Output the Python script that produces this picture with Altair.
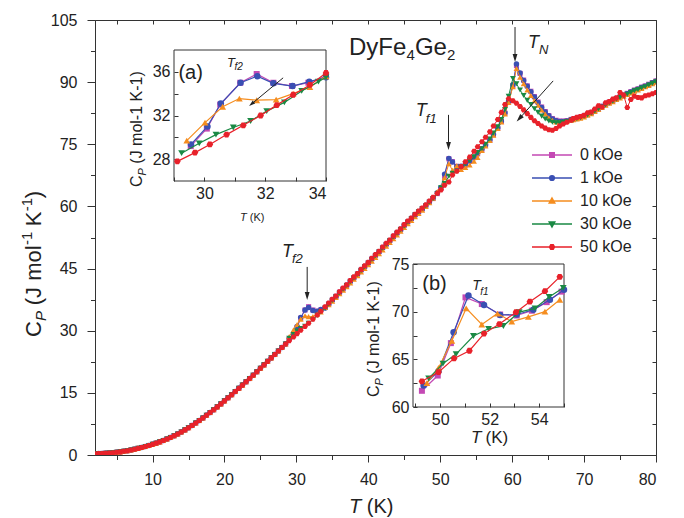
import altair as alt
import pandas as pd

# ------------------------------------------------------------------ data
FIELDS = ["0 kOe", "1 kOe", "10 kOe", "30 kOe", "50 kOe"]
COLORS = ["#C449B4", "#3A4FB3", "#F58D1F", "#1A8944", "#E8212A"]

# below ~28 K the five field curves lie on top of each other
T_LOW = [2.0, 2.5, 3.0, 3.5, 4.0, 4.5, 5.0, 5.5, 6.0, 6.5,
         7.0, 7.5, 8.0, 8.5, 9.0, 9.5, 10.0, 10.5, 11.0, 11.5,
         12.0, 12.5, 13.0, 13.5, 14.0, 14.5, 15.0, 15.5, 16.0, 16.5,
         17.0, 17.5, 18.0, 18.5, 19.0, 19.5, 20.0, 20.5, 21.0, 21.5,
         22.0, 22.5, 23.0, 23.5, 24.0, 24.5, 25.0, 25.5, 26.0, 26.5,
         27.0, 27.5, 28.0, 28.5]
CP_LOW = [0.30, 0.34, 0.38, 0.43, 0.49, 0.56, 0.65, 0.76, 0.89, 1.04,
          1.21, 1.40, 1.60, 1.82, 2.05, 2.30, 2.57, 2.86, 3.17, 3.50,
          3.86, 4.24, 4.65, 5.09, 5.56, 6.06, 6.59, 7.14, 7.72, 8.32,
          8.94, 9.58, 10.24, 10.92, 11.62, 12.34, 13.07, 13.81, 14.56, 15.32,
          16.09, 16.87, 17.66, 18.46, 19.27, 20.09, 20.92, 21.76, 22.60, 23.44,
          24.28, 25.12, 25.96, 26.80]

T_HIGH = [29.0, 29.6, 30.1, 30.6, 31.2, 31.7, 32.3, 32.9, 33.4, 34.0,
          34.5, 35.0, 35.5, 36.0, 36.5, 37.0, 37.5, 38.0, 38.5, 39.0,
          39.5, 40.0, 40.5, 41.0, 41.5, 42.0, 42.5, 43.0, 43.5, 44.0,
          44.5, 45.0, 45.5, 46.0, 46.5, 47.0, 47.5,
          48.0, 48.5, 49.0, 49.6, 50.1, 50.6, 51.2, 51.7, 52.3, 52.9,
          53.5, 54.1, 54.7, 55.2,
          55.8, 56.3, 56.9, 57.4, 58.0, 58.5, 59.0, 59.5, 60.1, 60.6,
          61.1, 61.6, 62.1, 62.6, 63.1, 63.6, 64.1, 64.6, 65.1, 65.6,
          66.1, 66.6, 67.1, 67.6, 68.2,
          68.5, 69.0, 69.5, 70.0, 70.5, 71.0, 71.5, 72.0, 72.5, 73.0,
          73.5, 74.0, 74.5, 75.0, 75.5, 76.0, 76.5, 77.0, 77.5, 78.0,
          78.5, 79.0, 79.5, 80.0]

CP_HIGH_0 = [28.0, 29.2, 30.8, 33.0, 35.0, 35.8, 35.0, 34.7, 35.0, 35.6,
             36.5, 37.5, 38.3, 39.3, 40.1, 41.0, 42.0, 42.8, 43.7, 44.7,
             45.5, 46.4, 47.4, 48.2, 49.1, 50.1, 50.9, 51.8, 52.8, 53.6,
             54.5, 55.5, 56.3, 57.1, 58.0, 58.7, 59.4,
             60.2, 61.1, 61.9, 63.1, 64.3, 67.3, 71.5, 70.8, 69.7, 69.6,
             70.0, 70.9, 71.8, 72.7,
             73.8, 74.8, 76.0, 77.3, 78.9, 80.5, 82.5, 85.2, 89.1, 94.0,
             92.1, 90.5, 89.1, 87.8, 86.5, 85.2, 84.0, 82.9, 81.9, 81.2,
             80.8, 80.6, 80.6, 80.7, 81.0,
             81.1, 81.3, 81.6, 81.9, 82.3, 82.7, 83.2, 83.7, 84.2, 84.7,
             85.2, 85.6, 86.1, 86.5, 86.9, 87.3, 87.7, 88.1, 88.4, 88.8,
             89.1, 89.5, 89.9, 90.3]
CP_HIGH_1 = [28.1, 29.4, 31.0, 33.2, 35.0, 35.6, 34.9, 34.7, 35.1, 35.5,
             36.4, 37.4, 38.2, 39.2, 40.1, 40.9, 41.9, 42.8, 43.6, 44.6,
             45.5, 46.3, 47.3, 48.2, 49.0, 50.0, 50.9, 51.7, 52.7, 53.6,
             54.4, 55.4, 56.3, 57.0, 57.9, 58.7, 59.4,
             60.2, 61.1, 62.0, 63.3, 64.6, 67.8, 71.6, 70.7, 69.6, 69.7,
             70.1, 71.0, 71.9, 72.9,
             73.9, 74.9, 76.1, 77.4, 79.0, 80.6, 82.6, 85.4, 89.4, 94.4,
             92.2, 90.4, 89.0, 87.7, 86.4, 85.1, 83.9, 82.8, 81.9, 81.1,
             80.7, 80.5, 80.5, 80.6, 80.9,
             81.0, 81.2, 81.5, 81.8, 82.2, 82.6, 83.1, 83.6, 84.1, 84.6,
             85.1, 85.5, 86.0, 86.4, 86.8, 87.2, 87.6, 88.0, 88.3, 88.7,
             89.0, 89.4, 89.8, 90.2]
CP_HIGH_10 = [28.6, 30.2, 31.5, 32.8, 33.6, 33.4, 33.45, 34.0, 34.5, 35.6,
              36.3, 37.1, 38.0, 38.9, 39.8, 40.6, 41.5, 42.4, 43.3, 44.2,
              45.0, 45.9, 46.8, 47.7, 48.6, 49.5, 50.4, 51.3, 52.2, 53.1,
              54.0, 54.9, 55.8, 56.6, 57.5, 58.3, 59.1,
              60.0, 60.9, 62.0, 63.6, 64.6, 66.9, 70.3, 68.7, 69.8, 68.9,
              69.4, 70.0, 70.9, 71.8,
              73.5, 74.6, 75.9, 77.2, 78.8, 80.4, 82.3, 85.1, 88.9, 93.3,
              91.2, 89.6, 88.1, 86.8, 85.5, 84.4, 83.3, 82.3, 81.4, 80.8,
              80.4, 80.3, 80.4, 80.5, 80.8,
              80.9, 81.1, 81.3, 81.6, 82.0, 82.4, 82.9, 83.4, 83.9, 84.4,
              84.9, 85.3, 85.8, 86.2, 86.6, 87.0, 87.4, 87.8, 88.1, 88.5,
              88.9, 89.2, 89.6, 90.0]
CP_HIGH_30 = [28.2, 29.1, 29.9, 30.5, 31.1, 31.8, 32.7, 33.7, 34.5, 35.4,
              36.4, 37.3, 38.2, 39.1, 40.0, 40.9, 41.8, 42.7, 43.6, 44.5,
              45.4, 46.3, 47.2, 48.1, 49.0, 49.9, 50.8, 51.7, 52.6, 53.5,
              54.4, 55.3, 56.2, 57.0, 57.9, 58.7, 59.5,
              60.1, 61.0, 61.9, 63.1, 64.5, 65.5, 67.3, 68.0, 68.5, 69.6,
              70.3, 71.1, 72.0, 73.0,
              73.9, 75.0, 76.3, 77.7, 79.2, 81.0, 83.4, 86.6, 90.9, 89.6,
              88.1, 86.8, 85.6, 84.6, 83.6, 82.7, 81.8, 81.1, 80.6, 80.3,
              80.2, 80.2, 80.3, 80.5, 80.8,
              80.9, 81.2, 81.4, 81.7, 82.1, 82.5, 83.0, 83.5, 84.0, 84.5,
              85.0, 85.4, 85.9, 86.3, 86.7, 87.1, 87.5, 87.9, 88.2, 88.6,
              88.9, 89.3, 89.7, 90.1]
CP_HIGH_50 = [27.6, 28.5, 29.3, 30.1, 31.0, 31.8, 32.8, 33.8, 34.7, 35.8,
              36.7, 37.6, 38.4, 39.4, 40.3, 41.1, 42.1, 43.0, 43.8, 44.8,
              45.7, 46.5, 47.5, 48.4, 49.2, 50.2, 51.1, 51.9, 52.9, 53.8,
              54.6, 55.6, 56.5, 57.2, 58.1, 58.9, 59.6,
              60.4, 61.3, 62.2, 63.2, 64.0, 65.1, 65.9, 67.6, 68.5, 69.6,
              70.8, 71.9, 73.3, 74.4,
              75.6, 76.7, 78.0, 79.4, 81.0, 82.7, 84.6, 86.0, 85.5, 84.9,
              84.1, 83.3, 82.4, 81.5, 80.7, 80.0, 79.4, 78.9, 78.5, 78.4,
              78.8, 79.4, 79.9, 80.3, 80.8,
              81.2, 81.5, 81.7, 82.0, 82.6, 82.8, 83.5, 84.3, 84.0, 85.0,
              85.3, 85.9, 86.2, 87.5, 86.9, 83.9, 85.8, 86.6, 86.3, 86.2,
              86.7, 86.9, 87.2, 87.5]
CP_HIGH = [CP_HIGH_0, CP_HIGH_1, CP_HIGH_10, CP_HIGH_30, CP_HIGH_50]

# inset (a): around T_f2
IA_T = [
    [29.55, 30.08, 30.52, 31.18, 31.72, 32.27, 32.88, 33.42, 34.0],
    [29.56, 30.10, 30.54, 31.19, 31.74, 32.27, 32.90, 33.45, 34.0],
    [29.42, 30.02, 30.60, 31.15, 31.72, 32.36, 32.92, 33.47, 34.0],
    [29.25, 29.83, 30.38, 30.95, 31.52, 32.05, 32.63, 33.20, 33.75, 34.0],
    [29.11, 29.69, 30.18, 30.73, 31.28, 31.85, 32.38, 32.92, 33.47, 34.0],
]
IA_CP = [
    [29.2, 30.8, 33.0, 35.0, 35.8, 35.0, 34.7, 35.0, 35.6],
    [29.35, 31.0, 33.1, 35.0, 35.6, 34.95, 34.7, 35.1, 35.5],
    [29.7, 31.35, 32.8, 33.55, 33.4, 33.45, 34.0, 34.6, 35.6],
    [28.55, 29.45, 30.25, 30.9, 31.5, 32.4, 33.2, 34.25, 35.1, 35.5],
    [27.8, 28.6, 29.35, 30.25, 31.1, 32.0, 32.95, 33.9, 34.8, 35.9],
]

# inset (b): around T_f1
IB_T = [
    [49.26, 49.90, 50.43, 51.02, 51.68, 52.42, 53.09, 53.70, 54.30, 54.90],
    [49.33, 49.93, 50.54, 51.14, 51.77, 52.42, 53.09, 53.76, 54.43, 55.0],
    [49.46, 49.93, 50.47, 51.05, 51.68, 52.31, 52.89, 53.56, 54.23, 54.83],
    [49.53, 50.11, 50.64, 51.34, 51.95, 52.55, 53.19, 53.83, 54.40, 54.97],
    [49.26, 49.93, 50.56, 51.18, 51.77, 52.39, 53.06, 53.62, 54.23, 54.83],
]
IB_CP = [
    [61.7, 63.3, 66.7, 71.5, 70.8, 69.7, 69.6, 70.1, 71.0, 72.1],
    [62.25, 63.75, 67.85, 71.7, 70.7, 69.65, 69.7, 70.2, 71.25, 72.3],
    [62.5, 64.1, 66.95, 70.35, 68.65, 69.8, 68.95, 69.45, 70.0, 71.25],
    [63.0, 64.55, 65.55, 67.45, 68.2, 68.5, 69.95, 70.35, 71.55, 72.5],
    [62.7, 63.65, 65.1, 65.9, 67.7, 68.7, 69.95, 71.05, 72.15, 73.65],
]

# axis extents and ticks
X_DOMAIN = [2, 80]
Y_DOMAIN = [0, 105]
X_TICKS = [5, 10, 15, 20, 25, 30, 35, 40, 45, 50, 55, 60, 65, 70, 75, 80]
Y_TICKS = [0, 7.5, 15, 22.5, 30, 37.5, 45, 52.5, 60, 67.5, 75, 82.5, 90, 97.5, 105]
IA_X_DOMAIN = [29, 34]
IA_Y_DOMAIN = [26, 38]
IA_X_TICKS = [29, 30, 31, 32, 33, 34]
IA_Y_TICKS = [28, 30, 32, 34, 36]
IB_X_DOMAIN = [48.9, 55]
IB_Y_DOMAIN = [60, 75]
IB_X_TICKS = [49, 50, 51, 52, 53, 54, 55]
IB_Y_TICKS = [60, 62.5, 65, 67.5, 70, 72.5, 75]

# ------------------------------------------------------------------ style
FONT = "Liberation Sans"
INK = "#222222"
W, H = 561, 435

HEXAGON = "M-1,0L-0.5,-0.87L0.5,-0.87L1,0L0.5,0.87L-0.5,0.87Z"
MARKERS = ["square", "circle", "triangle-up", "triangle-down", HEXAGON]
SIZE_MAIN = [26, 30, 34, 34, 34]
SIZE_INSET = [36, 42, 46, 46, 44]
ARROW = "M0,1L-0.6,-1L0.6,-1Z"

# legend glyphs: a short line with the marker on it (drawn with strokes)
LEGEND_SHAPES = [
    "M-4,0H4M-0.45,-0.45H0.45V0.45H-0.45ZM-0.2,-0.2H0.2V0.2H-0.2Z",
    "M-4,0H4M0.47,0A0.47,0.47,0,1,1,-0.47,0A0.47,0.47,0,1,1,0.47,0Z"
    "M0.2,0A0.2,0.2,0,1,1,-0.2,0A0.2,0.2,0,1,1,0.2,0Z",
    "M-4,0H4M0,-0.6L0.55,0.38L-0.55,0.38ZM0,-0.22L0.2,0.15L-0.2,0.15Z",
    "M-4,0H4M0,0.6L0.55,-0.38L-0.55,-0.38ZM0,0.22L0.2,-0.15L-0.2,-0.15Z",
    "M-4,0H4M-0.5,0L-0.25,-0.44L0.25,-0.44L0.5,0L0.25,0.44L-0.25,0.44Z"
    "M-0.2,0L-0.1,-0.17L0.1,-0.17L0.2,0L0.1,0.17L-0.1,0.17Z",
]

x_main = alt.Scale(domain=X_DOMAIN, nice=False, zero=False)
y_main = alt.Scale(domain=Y_DOMAIN, nice=False, zero=False)
# insets live inside the main frame: their scales map onto pixel sub-ranges
x_a = alt.Scale(domain=IA_X_DOMAIN, range=[79, 231], nice=False, zero=False)
y_a = alt.Scale(domain=IA_Y_DOMAIN, range=[161, 30], nice=False, zero=False)
x_b = alt.Scale(domain=IB_X_DOMAIN, range=[318, 469], nice=False, zero=False)
y_b = alt.Scale(domain=IB_Y_DOMAIN, range=[387, 244], nice=False, zero=False)


def series_layers(ts, cps, xs, ys, sizes, line_w):
    out = []
    for i, name in enumerate(FIELDS):
        df = pd.DataFrame({"T": ts[i], "Cp": cps[i]})
        enc = dict(x=alt.X("T:Q", scale=xs, axis=None),
                   y=alt.Y("Cp:Q", scale=ys, axis=None))
        out.append(alt.Chart(df).mark_line(color=COLORS[i], strokeWidth=line_w,
                                           clip=True).encode(**enc))
        out.append(alt.Chart(df).mark_point(shape=MARKERS[i], filled=True,
                                            color=COLORS[i], size=sizes[i],
                                            opacity=1, clip=True).encode(**enc))
    return out


def text_data(x, y, xs, ys, pieces):
    """Rich text anchored at a data position; pieces = (text, size, dx, dy, italic)."""
    df = pd.DataFrame({"x": [x], "y": [y]})
    out = []
    for text, size, dx, dy, italic in pieces:
        out.append(alt.Chart(df).mark_text(
            text=text, align="left", baseline="alphabetic", font=FONT,
            fontSize=size, fontStyle="italic" if italic else "normal",
            dx=dx, dy=dy, color=INK,
        ).encode(x=alt.X("x:Q", scale=xs, axis=None),
                 y=alt.Y("y:Q", scale=ys, axis=None)))
    return out


def text_px(x, y, pieces, angle=0):
    """Rich text anchored at a pixel position of the plot area."""
    out = []
    for text, size, dx, dy, italic in pieces:
        out.append(alt.Chart(pd.DataFrame({"k": [0]})).mark_text(
            text=text, align="left", baseline="alphabetic", font=FONT,
            fontSize=size, fontStyle="italic" if italic else "normal",
            dx=dx, dy=dy, angle=angle, color=INK,
        ).encode(x=alt.value(x), y=alt.value(y)))
    return out


def arrow(x0, y0, x1, y1, xs, ys, angle, size):
    line = alt.Chart(pd.DataFrame({"x": [x0], "y": [y0], "x2": [x1], "y2": [y1]})) \
        .mark_rule(color=INK, strokeWidth=1).encode(
            x=alt.X("x:Q", scale=xs, axis=None), x2="x2:Q",
            y=alt.Y("y:Q", scale=ys, axis=None), y2="y2:Q")
    head = alt.Chart(pd.DataFrame({"x": [x1], "y": [y1]})).mark_point(
        shape=ARROW, filled=True, color=INK, size=size, angle=angle, opacity=1
    ).encode(x=alt.X("x:Q", scale=xs, axis=None), y=alt.Y("y:Q", scale=ys, axis=None))
    return [line, head]


# ------------------------------------------------------------------ main panel
frame_df = pd.DataFrame({"T": X_DOMAIN, "Cp": Y_DOMAIN})
axes_bl = alt.Chart(frame_df).mark_point(opacity=0).encode(
    x=alt.X("T:Q", scale=x_main, axis=alt.Axis(
        orient="bottom", values=X_TICKS, title=None,
        labelExpr="datum.value % 10 === 0 ? datum.label : ''",
        tickSize={"condition": {"test": "datum.value % 10 === 0", "value": 7}, "value": 4.5},
        labelPadding=9)),
    y=alt.Y("Cp:Q", scale=y_main, axis=alt.Axis(
        orient="left", values=Y_TICKS, title=None,
        labelExpr="datum.value % 15 === 0 ? datum.label : ''",
        tickSize={"condition": {"test": "datum.value % 15 === 0", "value": 8}, "value": 4.5},
        labelPadding=10)),
)
axes_tr = alt.Chart(frame_df).mark_point(opacity=0).encode(
    x=alt.X("T:Q", scale=x_main, axis=alt.Axis(
        orient="top", values=X_TICKS, title=None, labels=False, domain=False,
        tickSize=4, offset=-4)),
    y=alt.Y("Cp:Q", scale=y_main, axis=alt.Axis(
        orient="right", values=Y_TICKS, title=None, labels=False, domain=False,
        tickSize=4, offset=-4)),
)

main_t = [T_LOW + T_HIGH for _ in FIELDS]
main_cp = [CP_LOW + cp for cp in CP_HIGH]

main_layers = [axes_bl, axes_tr]
main_layers += series_layers(main_t, main_cp, x_main, y_main, SIZE_MAIN, 1)

# transition markers
main_layers += arrow(60.4, 103.3, 60.4, 95.8, x_main, y_main, 0, 64)
main_layers += arrow(51.15, 82.1, 51.15, 74.6, x_main, y_main, 0, 64)
main_layers += arrow(31.5, 45.4, 31.5, 38.4, x_main, y_main, 0, 64)
main_layers += arrow(65.7, 90.3, 61.0, 81.2, x_main, y_main, 42, 64)
main_layers += text_data(62.2, 98.2, x_main, y_main,
                         [("T", 18, 0, 0, True), ("N", 13, 11, 6, True)])
main_layers += text_data(46.6, 81.8, x_main, y_main,
                         [("T", 18, 0, 0, True), ("f1", 13, 10, 7, True)])
main_layers += text_data(28.0, 47.8, x_main, y_main,
                         [("T", 18, 0, 0, True), ("f2", 13, 10, 6, True)])
main_layers += text_data(37.3, 96.5, x_main, y_main,
                         [("DyFe", 24, 0, 0, False), ("4", 15, 57.5, 5, False),
                          ("Ge", 24, 66, 0, False), ("2", 15, 98, 5, False)])

# axis titles
main_layers += text_px(-54, 317, [
    ("C", 22, 0, 0, False), ("P", 15, 15.9, 4.5, True),
    ("(J mol", 22, 31.7, 0, False), ("-1", 15, 91.9, -9, False),
    ("K", 22, 110.8, 0, False), ("-1", 15, 125.7, -9, False),
    (")", 22, 138.8, 0, False)], angle=270)
main_layers += text_px(254, 493, [("T", 20, 0, 0, True), ("(K)", 20, 17.8, 0, False)])

# legend
legend_spec = alt.Legend(orient="none", legendX=449, legendY=127, title=None,
                         labelFont=FONT, labelFontSize=16, labelColor=INK,
                         labelOffset=20, rowPadding=7, padding=0,
                         symbolStrokeWidth=1.5, symbolSize=100)
legend_layer = alt.Chart(pd.DataFrame({"field": FIELDS})).mark_point(
    filled=False, strokeWidth=1.5, size=100, opacity=1, clip=True
).encode(
    x=alt.value(-500), y=alt.value(-500),
    color=alt.Color("field:N", scale=alt.Scale(domain=FIELDS, range=COLORS), legend=legend_spec),
    shape=alt.Shape("field:N", scale=alt.Scale(domain=FIELDS, range=LEGEND_SHAPES), legend=legend_spec),
)
main_layers.append(legend_layer)

main = alt.layer(*main_layers).resolve_axis(x="independent", y="independent")


# ------------------------------------------------------------------ insets
def inset(xs, ys, xdom, ydom, xticks, yticks, xlab_expr, ylab_expr,
          x_off, y_off, ts, cps):
    fdf = pd.DataFrame({"x0": [xdom[0]], "x1": [xdom[1]], "y0": [ydom[0]], "y1": [ydom[1]]})
    box = alt.Chart(fdf).mark_rect(filled=False, color="#333333", strokeWidth=1).encode(
        x=alt.X("x0:Q", scale=xs, axis=alt.Axis(
            orient="bottom", values=xticks, title=None, labelExpr=xlab_expr,
            domain=False, tickSize=4, offset=x_off, labelPadding=4)),
        x2="x1:Q",
        y=alt.Y("y0:Q", scale=ys, axis=alt.Axis(
            orient="left", values=yticks, title=None, labelExpr=ylab_expr,
            domain=False, tickSize=4, offset=y_off, labelPadding=4)),
        y2="y1:Q",
    )
    return [box] + series_layers(ts, cps, xs, ys, SIZE_INSET, 1.2)


a_layers = inset(x_a, y_a, IA_X_DOMAIN, IA_Y_DOMAIN, IA_X_TICKS, IA_Y_TICKS,
                 "datum.value % 2 === 0 ? datum.label : ''",
                 "datum.value % 4 === 0 ? datum.label : ''",
                 -(H - 161) - 4, -79 - 4, IA_T, IA_CP)
a_layers += arrow(32.59, 35.45, 31.55, 33.05, x_a, y_a, 50, 40)
a_layers += text_data(29.64, 35.3, x_a, y_a, [("(a)", 20, -15, 0, False)])
a_layers += text_data(30.74, 36.46, x_a, y_a,
                      [("T", 13, 0, 0, True), ("f2", 10, 7.5, 3, True)])
a_layers += text_px(47, 167, [
    ("C", 16, 0, 0, False), ("P", 11, 11.6, 3.5, True),
    ("(J mol-1 K-1)", 16, 23.3, 0, False)], angle=270)
a_layers += text_px(145, 201, [("T", 11, 0, 0, True), ("(K)", 11, 9.8, 0, False)])
inset_a = alt.layer(*a_layers).resolve_axis(x="independent", y="independent")

b_layers = inset(x_b, y_b, IB_X_DOMAIN, IB_Y_DOMAIN, IB_X_TICKS, IB_Y_TICKS,
                 "datum.value % 2 === 0 ? datum.label : ''",
                 "datum.value % 5 === 0 ? datum.label : ''",
                 -(H - 387) - 4, -318 - 4, IB_T, IB_CP)
b_layers += text_data(49.88, 72.3, x_b, y_b, [("(b)", 20, -15, 0, False)])
b_layers += text_data(51.29, 72.27, x_b, y_b,
                      [("T", 14, 0, 0, True), ("f1", 10, 8, 5, True)])
b_layers += text_px(284, 377, [
    ("C", 16, 0, 0, False), ("P", 11, 11.6, 3.5, True),
    ("(J mol-1 K-1)", 16, 23.3, 0, False)], angle=270)
b_layers += text_px(376, 423, [("T", 17, 0, 0, True), ("(K)", 17, 14.5, 0, False)])
inset_b = alt.layer(*b_layers).resolve_axis(x="independent", y="independent")

# ------------------------------------------------------------------ assemble
chart = alt.layer(main, inset_a, inset_b).resolve_scale(
    x="independent", y="independent"
).resolve_axis(
    x="independent", y="independent"
).properties(
    width=W, height=H,
    autosize=alt.AutoSizeParams(type="none"),
    padding={"left": 95, "top": 20, "right": 28, "bottom": 63},
    background="white",
).configure_view(
    stroke="#333333", strokeWidth=1
).configure_axis(
    labelFont=FONT, labelFontSize=16, labelColor=INK,
    domainColor="#333333", tickColor="#333333", grid=False,
    domainWidth=1, tickWidth=1,
)

chart.save("out.html", embed_options={"renderer": "svg", "actions": False})
